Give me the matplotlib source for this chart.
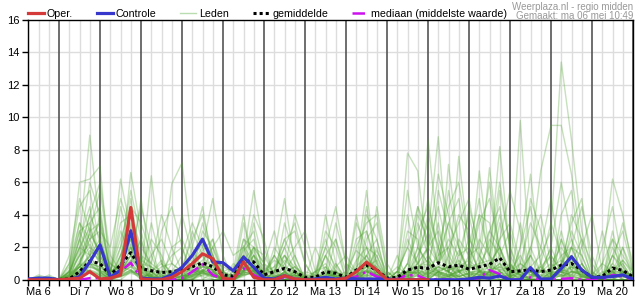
import numpy as np
import matplotlib
matplotlib.use("Agg")
import matplotlib.pyplot as plt
import matplotlib.transforms as mtransforms
from matplotlib.lines import Line2D

plt.rcParams['font.family'] = ['Liberation Sans', 'DejaVu Sans']

# 6-hourly precipitation (mm), first point Ma 6 06:00
day_labels = ["Ma 6", "Di 7", "Wo 8", "Do 9", "Vr 10", "Za 11", "Zo 12", "Ma 13",
              "Di 14", "Wo 15", "Do 16", "Vr 17", "Za 18", "Zo 19", "Ma 20"]

oper = [0, 0, 0, 0, 0.05, 0.1, 0.5, 0.05, 0.1, 0.3, 4.45, 0.05, 0, 0, 0.15, 0.5,
        1.0, 1.6, 1.3, 0.1, 0, 1.1, 0.15, 0, 0, 0.25, 0.05, 0, 0, 0, 0, 0.1,
        0.5, 1.08, 0.6, 0, 0, 0, 0, 0]

controle = [0.05, 0.1, 0.1, 0, 0, 0.2, 1.1, 2.15, 0.15, 0.6, 3.02, 0.1, 0.05, 0.05, 0.3,
            0.77, 1.5, 2.5, 1.1, 1.05, 0.55, 1.4, 0.77, 0.1, 0.05, 0.25, 0.05, 0, 0.05,
            0.15, 0.05, 0.1, 0.05, 0.05, 0.05, 0.05, 0, 0, 0, 0, 0, 0, 0, 0.05, 0.15,
            0.1, 0.23, 0, 0, 0.75, 0.05, 0.05, 0.7, 1.42, 0.6, 0.15, 0.15, 0.2, 0.3, 0.05]

gemiddelde = [0.02, 0.05, 0.05, 0.02, 0.05, 0.5, 1.15, 1.0, 0.3, 0.9, 1.67, 0.7, 0.56,
              0.45, 0.5, 0.6, 0.8, 1.05, 0.8, 0.3, 0.23, 1.2, 1.1, 0.3, 0.5, 0.7, 0.5,
              0.15, 0.15, 0.5, 0.4, 0.15, 0.6, 0.9, 0.6, 0.1, 0.15, 0.6, 0.77, 0.7,
              1.05, 0.8, 0.9, 0.65, 0.8, 0.95, 1.35, 0.5, 0.55, 0.62, 0.5, 0.6, 0.9,
              1.0, 0.6, 0.15, 0.2, 0.72, 0.58, 0.18]

mediaan = [0, 0.05, 0.05, 0, 0, 0, 0.1, 0.1, 0.05, 0.5, 1.05, 0.1, 0, 0, 0, 0.1, 0.5,
           0.95, 0.3, 0.05, 0.1, 0.7, 0.3, 0, 0, 0.15, 0, 0, 0, 0.1, 0, 0, 0.2, 0.5,
           0.2, 0, 0.05, 0.3, 0.25, 0, 0.05, 0, 0, 0, 0.1, 0.6, 0.35, 0, 0, 0.15, 0,
           0, 0.05, 0.1, 0, 0, 0, 0.3, 0.2, 0]

# ensemble members, grouped per day (Ma 6 has 3 values, Ma 20 has 5)
leden = [
    "0 .1 .2 | 0 .3 2.5 8.9 | 3.0 0 1.2 2.0 | .5 0 0 .3 | 0 .8 1.5 .6 | 0 0 2.1 1.0 | 0 0 .4 .2 | 0 0 0 0 | 0 1.2 2.0 .5 | 0 0 0 .3 | 1.0 3.5 .4 0 | 0 0 .2 1.5 | 0 0 0 0 | 0 .5 1.2 0 | 0 0 0 .4 0",
    "0 0 .1 | 0 .5 6.0 6.2 | 7.0 .2 .5 1.5 | 1.0 .8 .3 0 | .2 .5 .9 .4 | 0 0 1.0 .6 | .3 .5 0 0 | 0 0 .8 .2 | 0 0 .6 .3 | 0 0 0 0 | 0 0 .5 1.8 | .5 0 0 0 | 0 9.8 .5 0 | 0 0 0 .2 | 0 0 0 0 0",
    "0 .3 .1 | 0 0 1.2 2.0 | 1.5 .4 6.2 3.0 | 0 .2 0 0 | 0 1.5 2.2 1.0 | .5 0 .8 1.8 | 0 0 0 0 | 0 .4 2.0 .8 | 0 0 .3 0 | 0 .2 7.8 6.7 | 1.2 .3 0 0 | 0 .2 0 0 | 0 0 .5 .8 | 0 .3 .8 .4 | 0 .2 1.0 .3 0",
    "0 0 0 | 0 0 1.8 4.0 | 2.5 .5 .8 6.6 | 3.0 .5 0 0 | 0 0 .6 .3 | 0 0 1.5 .8 | 0 .4 1.2 .6 | 0 0 0 .3 | 0 0 1.0 .8 | 0 0 0 0 | 8.6 2.5 .5 0 | 0 .3 .5 0 | 0 0 0 0 | .2 .8 1.5 .4 | 0 0 2.0 .8 0",
    "0 0 0 | 0 .8 3.0 1.5 | .5 0 0 .5 | .3 6.4 1.0 0 | 0 0 .3 .5 | 0 0 .8 2.0 | 1.5 .3 0 0 | 0 0 0 0 | 0 .5 1.5 .3 | 0 0 .4 1.5 | 2.8 8.8 1.2 0 | 0 0 1.0 2.0 | .5 0 0 0 | 0 0 0 0 | 0 0 .3 1.2 .5",
    "0 0 0 | 0 0 .5 1.0 | .8 .3 1.5 3.5 | .8 0 .5 5.9 | 7.2 2.0 .5 0 | 0 .3 1.5 .8 | .5 1.2 .8 .3 | .2 0 0 0 | 0 0 .8 1.2 | 0 0 .3 .5 | 0 0 7.1 2.0 | .5 .5 .3 .2 | 0 0 0 0 | 0 0 .5 .3 | 0 0 0 0 0",
    "0 0 0 | 0 .2 1.0 .5 | .3 0 .4 .8 | .5 .3 .2 .4 | .6 .8 1.2 2.0 | .5 .2 .6 .5 | 0 0 0 .2 | .5 .3 0 0 | 0 0 .2 0 | 0 0 0 .8 | 1.0 .5 .3 7.6 | 2.0 .5 .3 .2 | 0 0 0 0 | 0 .3 0 0 | 0 0 0 0 0",
    "0 0 0 | 0 .3 1.5 2.2 | 1.0 .2 .6 1.2 | .6 .5 .2 0 | 0 .3 .5 .2 | 0 0 .4 .6 | .5 .8 2.5 1.0 | 0 0 .5 .2 | .5 1.8 1.2 .3 | 0 0 0 0 | .5 .8 .5 .2 | .4 6.7 1.5 .5 | 0 0 .3 .5 | 1.0 2.0 1.0 .2 | 0 0 0 0 0",
    "0 0 .1 | 0 0 .8 1.4 | .6 .2 .3 .9 | .2 .3 .4 .3 | .2 .5 .8 .6 | .2 0 .6 1.2 | .3 .2 .4 .8 | .3 .2 0 0 | 0 .2 .5 .6 | 0 0 .5 .4 | .2 .3 .6 .8 | 1.2 .6 6.9 1.5 | .3 .2 .2 .3 | .5 .5 .3 .2 | 0 .3 .5 .4 .2",
    "0 0 0 | 0 .4 2.0 3.2 | 1.5 .2 .8 2.5 | .5 .2 0 0 | 0 .2 .6 .9 | .1 0 .5 .8 | 0 0 .2 .3 | 0 0 .6 .5 | 0 .3 .8 .6 | 0 0 .2 0 | 0 0 .2 .5 | .8 1.0 1.2 8.2 | 1.5 .3 0 0 | .3 .5 .2 0 | 0 0 .4 .6 0",
    "0 0 0 | 0 .2 .6 1.0 | .4 .1 .3 .6 | .2 .1 0 .5 | .8 .5 .4 .3 | 0 0 .3 .5 | .2 .1 .5 .8 | .2 0 .3 .5 | 0 .5 .8 .2 | 0 .3 0 0 | 0 .5 .3 .2 | .4 .6 .2 .3 | 0 2.0 6.5 .8 | .3 .2 .5 .4 | 0 .2 .3 .5 .3",
    "0 0 0 | 0 0 .3 .8 | .5 0 .2 .5 | .3 0 0 0 | 0 .2 .4 .2 | 0 0 .3 .4 | 0 .2 .3 .2 | 0 0 .2 .4 | 0 0 .3 .2 | 0 .5 .3 0 | 0 0 .3 .2 | 0 0 .5 .3 | .2 0 .8 1.5 | 3.0 13.4 8.6 3.0 | .5 0 .3 .2 0",
    "0 0 0 | 0 .1 .4 .6 | .3 0 .2 .4 | .2 0 .3 .2 | .2 .4 .6 .3 | 0 0 .2 .6 | 0 0 .5 .3 | 0 0 .2 .3 | 0 .2 .6 .4 | 0 0 .3 .2 | .4 .6 .8 .5 | .3 .4 .2 .5 | .2 .5 1.5 6.7 | 9.5 9.5 6.5 2.0 | .3 .2 .8 .5 .2",
    "0 0 0 | 0 .2 .8 .5 | .2 0 .4 1.0 | .4 .2 0 0 | 0 .4 .8 .6 | .2 0 .6 .8 | .4 .6 .3 0 | 0 0 .4 .2 | 0 .4 1.2 .8 | 0 0 .2 .6 | .4 .3 .2 .6 | .5 .3 .2 .6 | .8 .5 0 0 | 0 .5 .8 .6 | 0 .8 6.2 4.0 .5",
    "0 .1 0 | 0 0 .3 .6 | .4 .1 .2 .6 | .3 .2 0 0 | 0 .5 .6 .4 | 0 0 .4 .5 | .2 0 0 0 | 0 0 .3 .6 | 0 .6 .5 .3 | 0 .2 .5 .4 | .6 .4 .2 .6 | .3 .5 .8 .6 | .5 .3 0 .2 | .4 .6 .5 .3 | 0 0 .6 1.2 .3",
    "0 0 0 | 0 .5 3.5 2.5 | 1.2 .5 2.0 4.0 | 1.5 .3 0 0 | 0 1.0 2.5 1.5 | .3 0 1.8 2.5 | .5 0 0 .5 | 0 0 1.5 .5 | 0 2.5 3.0 1.0 | 0 0 0 .5 | 2.0 1.0 .5 0 | 0 1.5 3.0 2.0 | .5 0 0 .8 | 1.5 .5 0 0 | 0 0 1.5 .5 0",
    "0 0 0 | 0 0 1.0 3.5 | 4.5 .3 1.0 2.5 | .5 1.5 2.5 1.0 | .5 0 .5 1.0 | .2 0 2.5 1.5 | .5 1.5 .5 0 | 0 0 0 .8 | 1.5 .5 0 0 | 0 .5 2.0 4.5 | 3.0 1.0 2.5 1.5 | 4.0 1.0 0 0 | 0 0 2.0 .5 | 0 1.0 2.5 1.0 | 0 0 0 0 0",
    "0 0 0 | 0 .3 .8 1.5 | 2.0 1.0 .5 1.0 | 2.5 .5 0 0 | 0 .5 1.0 .5 | 0 .5 1.2 2.0 | 1.0 .5 1.5 .8 | 0 .3 0 0 | 0 0 2.5 3.5 | .5 0 0 0 | 0 .5 .8 .2 | 0 .5 .3 2.5 | 3.5 1.0 .5 0 | 0 0 1.0 2.5 | 1.0 0 0 .5 .3",
    "0 0 0 | 0 .6 2.5 4.5 | 1.0 0 1.5 3.0 | 1.0 .2 0 .2 | .8 2.5 4.0 1.5 | 0 0 .5 1.0 | .2 0 0 .3 | .2 .5 1.0 0 | 0 0 .5 .3 | .2 .8 .3 1.0 | 2.0 4.5 1.5 .5 | 0 0 .5 1.0 | 0 0 0 0 | .5 1.5 2.0 .5 | .3 1.0 .5 0 0",
    "0 0 0 | 0 .1 .6 1.0 | .8 0 .3 2.0 | .8 0 .5 1.5 | 2.0 .5 .2 0 | 0 0 .8 .3 | 0 .5 2.0 3.5 | 1.0 0 0 0 | 0 .3 0 0 | 0 0 .5 2.0 | 1.0 .2 0 .8 | 2.5 1.5 .5 .2 | 0 .5 1.5 0 | 0 0 .3 1.0 | .2 0 2.5 1.5 .5",
    "0 0 0 | 0 .2 1.5 2.8 | 1.8 .2 .5 1.5 | .3 0 0 0 | .3 .8 1.8 2.5 | .5 .2 1.5 .5 | 0 0 .8 .5 | 0 0 1.5 2.5 | .5 0 0 .5 | 0 0 .2 .8 | .5 1.5 3.5 2.0 | 0 .5 1.0 .5 | 0 1.0 .5 0 | .2 2.5 1.0 .5 | 0 0 0 .3 0",
    "0 .2 0 | 0 0 .3 1.8 | 1.2 .5 .8 .6 | 0 .5 1.2 .3 | 0 .3 .8 1.2 | .8 .5 .3 1.5 | .8 .2 0 0 | 0 0 0 .5 | 0 0 .2 1.5 | 0 0 1.0 .3 | 0 .5 .8 .3 | 1.5 2.0 .8 .3 | 1.0 .3 0 0 | .5 .3 2.0 1.5 | 0 .5 .3 .2 0",
    "0 0 0 | 0 .3 1.0 2.5 | 3.5 .5 .5 1.2 | .8 .3 0 0 | .2 .3 .4 .8 | .5 .8 1.2 .4 | 0 0 .2 .5 | 0 0 0 .2 | 0 .8 1.5 .5 | 0 0 0 .5 | .3 .8 .5 1.2 | .5 2.5 1.5 4.0 | 1.0 .2 .5 .3 | 0 0 .8 .2 | 0 0 .5 0 0",
    "0 0 0 | 0 0 .5 .8 | .6 .2 1.0 2.2 | 1.2 .8 .3 0 | 0 .2 1.0 .6 | 0 0 .8 .6 | .2 .8 1.5 .3 | 0 .5 .8 0 | 0 0 .5 .3 | .3 .5 .2 .6 | 1.5 .5 .2 1.0 | .3 .2 .5 1.0 | .5 1.5 .3 .5 | 2.0 .5 .3 0 | 0 0 1.5 .8 0",
    "0 0 0 | 0 .4 .8 1.2 | .5 .2 .4 .8 | .2 .3 .8 1.0 | .5 .6 .5 .2 | .2 0 .4 .6 | .3 1.5 .5 0 | 0 0 .3 .2 | 0 .3 .6 1.8 | .5 0 .5 .3 | .2 .5 .3 .5 | .8 .6 .4 .8 | .6 .3 .5 .2 | .8 1.2 .6 .3 | 0 .4 .8 .5 .3",
    "0 0 0 | 0 0 .2 .5 | .3 .1 .2 .5 | .1 0 0 .2 | .3 .2 .4 .3 | 0 0 .3 .4 | .1 0 .2 .3 | 0 0 0 .1 | 0 .2 .3 .2 | 0 0 .1 .3 | .5 .2 .1 .3 | .2 .1 .3 .5 | .3 .1 0 .2 | .3 .2 .5 .3 | 0 .1 .3 .2 0",
    "0 .1 0 | 0 .1 .4 .9 | .5 0 .3 .6 | .2 .1 .2 .1 | .2 .3 .5 .4 | .1 .2 .6 .8 | .2 .1 .3 .6 | .1 0 .2 .3 | 0 .4 .5 .3 | .1 .2 .4 .6 | .3 .8 .5 .2 | .4 .3 .6 .8 | .2 .5 .3 .1 | .2 .6 .4 .2 | .2 0 .6 .4 .1",
    "0 0 0 | 0 .2 .8 .4 | .2 0 .5 1.0 | .4 .2 0 0 | 0 .1 .3 .2 | 0 0 .5 .3 | .1 .2 .4 .2 | 0 .1 .4 .2 | 0 .1 .4 .5 | 0 0 .6 .8 | 1.2 .4 .2 .1 | 0 .2 .4 .3 | .2 0 .2 .6 | .4 .3 .2 .1 | .1 .2 .4 .3 .2",
    "0 0 0 | 0 1.0 4.5 5.5 | 2.0 .5 3.5 4.0 | 2.0 1.0 .5 0 | 0 .5 3.0 2.0 | 0 0 3.5 1.0 | 0 .5 2.0 .5 | 0 0 0 1.0 | 0 3.5 2.0 0 | 0 0 1.0 3.0 | 4.5 2.0 0 .5 | 1.0 3.5 5.0 2.0 | 0 .5 2.0 4.0 | 1.0 .5 3.0 1.5 | 0 0 1.0 3.5 1.0",
    "0 0 .3 | 0 0 .5 3.0 | 5.5 1.0 .5 1.5 | 4.5 2.0 0 0 | 0 2.0 4.5 1.0 | 0 0 1.0 4.0 | 2.5 0 0 0 | 0 0 3.0 2.0 | 0 0 0 4.5 | 1.0 0 2.5 1.0 | 0 5.5 3.0 .5 | 0 1.0 2.0 6.0 | 2.0 0 0 0 | 0 4.0 5.5 1.0 | 0 0 0 2.0 .5",
    "0 0 0 | 0 .5 2.0 6.0 | 4.0 .5 1.0 5.0 | 1.0 0 3.0 4.5 | 2.0 0 0 .5 | 0 0 2.0 3.0 | 0 1.5 5.0 1.0 | 0 0 0 0 | 0 .5 4.0 2.5 | 0 .5 5.5 2.0 | 1.0 0 1.5 4.0 | 3.0 0 .5 2.5 | 5.5 3.0 0 0 | 0 0 2.0 4.5 | 1.5 0 0 0 0",
    "0 0 0 | 0 0 1.0 2.5 | 3.0 2.0 5.0 3.0 | 0 .5 1.0 0 | 0 1.0 2.0 5.0 | 1.5 0 .5 2.0 | 1.0 3.0 .5 0 | 0 0 4.0 1.0 | 0 0 1.0 .5 | 0 0 0 1.5 | 3.5 1.0 5.5 2.0 | .5 4.0 1.5 0 | 0 2.0 4.5 1.0 | 0 .5 1.5 0 | 0 2.0 4.5 1.0 0",
    "0 0 0 | 0 .3 3.0 3.5 | 1.0 0 2.0 5.5 | 2.5 0 0 1.0 | 4.0 1.5 0 0 | 0 .5 4.0 .5 | 0 0 1.0 2.0 | 3.0 .5 0 0 | 0 1.0 5.5 .5 | 0 0 3.0 2.5 | 0 2.0 4.5 6.0 | 2.0 .5 0 3.5 | 1.0 0 0 2.0 | 5.0 1.0 0 0 | 0 0 3.0 .5 0",
    "0 .2 0 | 0 1.5 5.0 3.0 | 1.5 0 .5 2.0 | 0 3.5 1.0 .5 | 0 0 1.0 2.5 | 0 0 2.5 2.0 | 0 0 3.5 1.5 | 0 0 2.0 4.5 | 1.0 0 2.0 1.5 | 0 1.5 0 4.5 | 2.0 3.0 1.0 .5 | 4.5 2.0 6.0 1.0 | 0 0 1.5 .5 | 2.0 6.0 2.5 0 | 0 0 .5 1.0 0",
    "0 0 0 | 0 0 .5 1.5 | 2.5 .3 4.5 2.0 | 1.5 1.0 4.0 2.0 | .5 3.0 1.5 0 | 0 0 1.0 .5 | 0 2.0 1.0 0 | 0 0 1.5 0 | 0 2.0 3.5 4.0 | .5 0 0 2.0 | 5.0 1.5 2.0 .5 | 0 0 3.0 4.5 | .5 1.0 3.5 2.0 | .5 3.0 .5 2.0 | 4.0 .5 0 0 0",
    "0 0 0 | 0 .5 1.5 4.0 | 6.0 1.5 .5 3.0 | 1.0 0 0 2.0 | 2.5 1.0 3.5 1.5 | 0 0 .5 3.5 | 1.0 0 0 .5 | 0 2.0 .5 0 | 0 0 3.0 .5 | 0 0 .5 1.0 | 2.0 6.5 4.0 1.0 | 0 .5 2.5 1.5 | 3.0 .5 0 .5 | 1.5 .5 4.0 2.5 | 0 0 1.5 3.0 .5",
    "0 0 0 | 0 .2 2.5 1.0 | .5 .5 2.5 4.5 | 3.5 1.5 0 0 | 0 .5 .5 2.0 | 3.0 1.5 2.0 .5 | 0 .5 2.5 3.0 | 1.0 0 0 2.5 | 0 0 1.5 2.5 | 0 0 4.0 .5 | 0 1.0 2.0 3.5 | 5.0 1.5 .5 0 | 0 3.5 .5 0 | 0 1.0 3.5 5.0 | .5 0 0 .5 0",
    "0 0 0 | 0 1.0 3.5 2.0 | 1.0 0 1.5 2.5 | .5 .5 .5 .5 | 1.5 3.5 2.0 .5 | 0 1.0 .5 1.5 | 0 0 .5 4.0 | 2.0 0 0 0 | 0 4.0 1.0 0 | 0 0 .5 3.5 | 1.5 .5 0 1.5 | 2.0 5.0 1.0 2.0 | 0 0 5.0 3.0 | 0 2.5 .5 .5 | 0 1.0 2.5 0 0",
    "0 0 0 | 0 0 .8 3.0 | 3.5 .5 .5 1.0 | 5.0 .5 0 0 | 0 .5 1.0 .5 | 0 0 1.5 5.5 | 2.0 0 .5 1.5 | 0 .5 2.5 .5 | 0 0 .5 2.0 | 0 .5 2.0 1.0 | 4.0 2.0 .5 2.5 | 1.5 4.0 3.5 .5 | 0 0 0 1.0 | 3.5 1.5 0 1.0 | 0 0 .5 2.0 0",
    "0 0 0 | 0 .5 2.0 1.5 | 4.0 .5 3.0 1.5 | .5 2.5 1.5 0 | 0 0 .5 1.0 | .5 0 .8 1.5 | 0 0 1.5 .5 | 0 0 .5 3.5 | 1.0 .5 4.5 1.0 | 0 0 1.0 4.0 | 2.5 1.0 3.5 5.0 | 1.0 .5 .5 5.5 | 2.0 .5 0 0 | 0 1.0 2.0 .5 | 0 3.0 .5 0 0",
]

t = 0.25 + 0.25 * np.arange(len(controle))   # days since Ma 6 00:00

fig = plt.figure(figsize=(6.35, 3.0), dpi=100)
ax = fig.add_axes([28.3 / 635, 1 - 279.8 / 300, (633 - 28.3) / 635, 260 / 300])

# grid: light every 6 h, dark at midnight
for v in t:
    if abs(v - round(v)) < 1e-9:
        ax.axvline(v, color='#555555', lw=1.2, zorder=1)
    else:
        ax.axvline(v, color='#dddddd', lw=1.0, zorder=0)
for y in range(2, 16, 2):
    ax.axhline(y, color='#dddddd', lw=1.0, zorder=0)

for m in leden:
    vals = [float(x) for x in m.replace('|', ' ').split()]
    ax.plot(t, vals, color='#4ea22f', alpha=0.32, lw=1.0, zorder=2)

ax.plot(t, mediaan, color='#cc11ee', lw=1.8, ls=(0, (5, 2, 1, 2)), zorder=3)
ax.plot(t, gemiddelde, color='black', lw=2.2, ls=(0, (1, 1)), zorder=4)
ax.plot(t, controle, color='#3737cc', lw=2.3, zorder=5)
ax.plot(t[:len(oper)], oper, color='#d43a3a', lw=2.3, zorder=6)

ax.set_xlim(0.25, 15.0)
ax.set_ylim(0, 16)
ax.set_xticks(t)
ax.set_xticklabels([])
ax.tick_params(axis='x', length=4, width=1, direction='out')
ax.set_yticks(range(0, 17, 2))
ax.tick_params(axis='y', length=4, width=1, direction='out', labelsize=8, pad=2)
for s in ax.spines.values():
    s.set_color('black')
    s.set_linewidth(1.0)

trans = mtransforms.blended_transform_factory(ax.transData, ax.transAxes)
for i, lab in enumerate(day_labels):
    ax.text(i + 0.5, -0.028, lab, transform=trans, ha='center', va='top', fontsize=8)

handles = [
    Line2D([], [], color='#d43a3a', lw=2.3),
    Line2D([], [], color='#3737cc', lw=2.3),
    Line2D([], [], color='#b9ddb0', lw=1.0),
    Line2D([], [], color='black', lw=2.2, ls=(0, (1, 1))),
    Line2D([], [], color='#cc11ee', lw=1.8, ls=(0, (5, 2, 1, 2))),
]
labels = ["Oper.", "Controle", "Leden", "gemiddelde", "mediaan (middelste waarde)"]
ax.legend(handles, labels, loc='lower left', bbox_to_anchor=(-0.001, 1.005), ncol=5,
          frameon=False, fontsize=7.7, handlelength=1.5, handletextpad=0.3,
          columnspacing=2.2, borderaxespad=0, borderpad=0)

fig.text(0.997, 0.995, "Weerplaza.nl - regio midden", ha='right', va='top',
         color='#999999', fontsize=7)
fig.text(0.997, 0.962, "Gemaakt: ma 06 mei 10:49", ha='right', va='top',
         color='#999999', fontsize=7)

fig.savefig('out.png', dpi=100)
